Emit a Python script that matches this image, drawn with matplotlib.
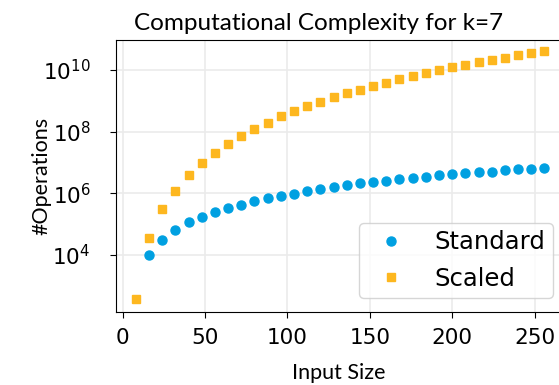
import matplotlib
matplotlib.use('Agg')
import matplotlib.pyplot as plt

# values (log-scale y)
std_x = [16, 24, 32, 40, 48, 56, 64, 72, 80, 88, 96, 104, 112, 120, 128, 136,
         144, 152, 160, 168, 176, 184, 192, 200, 208, 216, 224, 232, 240, 248, 256]
std_ops = [9.8e3, 3.2e4, 6.6e4, 1.15e5, 1.7e5, 2.45e5, 3.3e5, 4.3e5, 5.5e5, 6.9e5,
           8.1e5, 9.8e5, 1.15e6, 1.35e6, 1.55e6, 1.8e6, 2.1e6, 2.4e6, 2.6e6, 2.9e6,
           3.2e6, 3.5e6, 3.9e6, 4.3e6, 4.6e6, 4.9e6, 5.1e6, 5.6e6, 6.0e6, 6.3e6, 6.8e6]

scl_x = [8] + std_x
scl_ops = [3.9e2, 3.6e4, 3.0e5, 1.2e6, 3.8e6, 9.5e6, 2.1e7, 4.0e7, 7.2e7, 1.23e8,
           1.95e8, 3.1e8, 4.6e8, 6.6e8, 9.3e8, 1.29e9, 1.74e9, 2.3e9, 3.0e9, 3.9e9,
           5.0e9, 6.3e9, 7.8e9, 9.8e9, 1.2e10, 1.45e10, 1.78e10, 2.1e10, 2.5e10,
           3.0e10, 3.5e10, 4.1e10]

BLUE = '#00a0e1'
ORANGE = '#fdb71f'
LABEL_FONT = ['Lato', 'DejaVu Sans']

fig = plt.figure(figsize=(5.59, 3.85), dpi=100)
ax = fig.add_axes([0.2075, 0.19, 0.796, 0.7065])

ax.plot(std_x, std_ops, 'o', color=BLUE, markersize=6.5, label='Standard', zorder=3)
ax.plot(scl_x, scl_ops, 's', color=ORANGE, markersize=6, label='Scaled', zorder=3)

ax.set_yscale('log')
ax.set_xlim(-4, 266)
ax.set_ylim(145, 9.4e10)
ax.set_yticks([1e4, 1e6, 1e8, 1e10])
ax.minorticks_off()
ax.set_xticks([0, 50, 100, 150, 200, 250])
ax.tick_params(labelsize=15.5, length=4.3)
ax.tick_params(axis='x', pad=7)
ax.tick_params(axis='y', pad=14)
ax.grid(True, color='#ebebeb', linewidth=1.2)
ax.set_axisbelow(True)
ax.spines['right'].set_visible(False)

ax.set_title('Computational Complexity for k=7', fontsize=17.5, family=LABEL_FONT,
             pad=7, x=0.455)
ax.set_xlabel('Input Size', fontsize=15.5, family=LABEL_FONT, labelpad=11)
ax.set_ylabel('#Operations', fontsize=15.5, family=LABEL_FONT, labelpad=-6)

ax.legend(loc='lower right', fontsize=17.5, borderaxespad=0, borderpad=0.3,
          bbox_to_anchor=(0.982, 0.0515))

fig.savefig('out.png', dpi=100)
